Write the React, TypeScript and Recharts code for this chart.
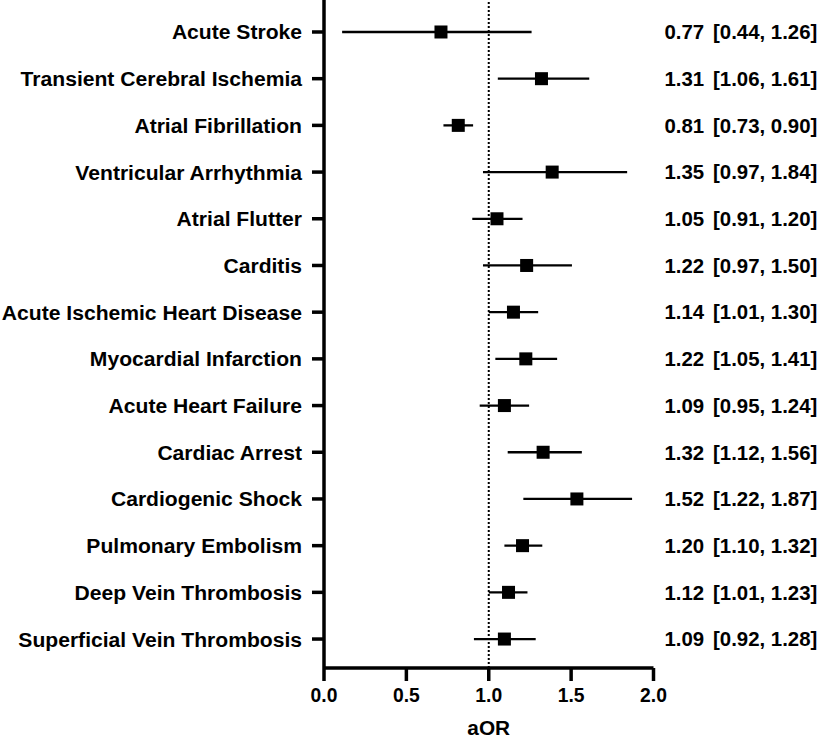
import React from 'react';
import { ScatterChart, Scatter, XAxis, YAxis, ErrorBar, ReferenceLine } from 'recharts';

// outcome rows, top to bottom
const outcomes = [
  'Acute Stroke',
  'Transient Cerebral Ischemia',
  'Atrial Fibrillation',
  'Ventricular Arrhythmia',
  'Atrial Flutter',
  'Carditis',
  'Acute Ischemic Heart Disease',
  'Myocardial Infarction',
  'Acute Heart Failure',
  'Cardiac Arrest',
  'Cardiogenic Shock',
  'Pulmonary Embolism',
  'Deep Vein Thrombosis',
  'Superficial Vein Thrombosis',
];

// plotted positions (as drawn)
const estimates = [0.71, 1.32, 0.815, 1.385, 1.05, 1.23, 1.15, 1.225, 1.095, 1.33, 1.535, 1.205, 1.12, 1.095];
const lowerCI = [0.11, 1.055, 0.725, 0.965, 0.9, 0.965, 1.0, 1.04, 0.945, 1.115, 1.21, 1.095, 1.0, 0.91];
const upperCI = [1.26, 1.61, 0.905, 1.84, 1.205, 1.505, 1.3, 1.415, 1.245, 1.565, 1.87, 1.325, 1.235, 1.285];

// printed values in the right-hand column
const reportedOR = ['0.77', '1.31', '0.81', '1.35', '1.05', '1.22', '1.14', '1.22', '1.09', '1.32', '1.52', '1.20', '1.12', '1.09'];
const reportedCI = [
  '[0.44, 1.26]',
  '[1.06, 1.61]',
  '[0.73, 0.90]',
  '[0.97, 1.84]',
  '[0.91, 1.20]',
  '[0.97, 1.50]',
  '[1.01, 1.30]',
  '[1.05, 1.41]',
  '[0.95, 1.24]',
  '[1.12, 1.56]',
  '[1.22, 1.87]',
  '[1.10, 1.32]',
  '[1.01, 1.23]',
  '[0.92, 1.28]',
];

const xTicks = [0, 0.5, 1, 1.5, 2];
const rowTicks = outcomes.map((_, i) => i);

const FONT = "'Liberation Sans', Arial, Helvetica, sans-serif";

const data = outcomes.map((name, i) => ({
  name,
  row: i,
  aor: estimates[i],
  err: [estimates[i] - lowerCI[i], upperCI[i] - estimates[i]],
}));

function StatTick({ x, y, payload }: any) {
  const i = payload.value;
  return (
    <g fontFamily={FONT} fontWeight="bold" fontSize={20.4} fill="#000">
      <text x={x + 11} y={y} dy="0.355em">{reportedOR[i]}</text>
      <text x={x + 59.5} y={y} dy="0.355em">{reportedCI[i]}</text>
    </g>
  );
}

const SquareDot = (props: any) => (
  <rect x={props.cx - 6.5} y={props.cy - 6.5} width={13} height={13} fill="#000" />
);

export default function App() {
  return (
    <div style={{ position: 'absolute', left: 0, top: 0, background: '#fff' }}>
      <ScatterChart width={819} height={743} margin={{ top: 0, right: 0, bottom: 0, left: 0 }}>
        <XAxis
          type="number"
          dataKey="aor"
          domain={[0, 2]}
          ticks={xTicks}
          tickFormatter={(v: number) => v.toFixed(1)}
          height={75}
          tickSize={13}
          tickMargin={7}
          axisLine={{ stroke: '#000', strokeWidth: 3.5 }}
          tickLine={{ stroke: '#000', strokeWidth: 3.5 }}
          tick={{ fill: '#000', fontFamily: FONT, fontWeight: 'bold', fontSize: 19.3 }}
          allowDataOverflow
          label={{
            value: 'aOR',
            position: 'insideBottom',
            offset: 8.5,
            fill: '#000',
            fontFamily: FONT,
            fontWeight: 'bold',
            fontSize: 20.8,
          }}
        />
        <YAxis
          yAxisId="left"
          type="number"
          dataKey="row"
          reversed
          domain={[-0.685, 13.62]}
          allowDataOverflow
          ticks={rowTicks}
          interval={0}
          tickFormatter={(v: number) => outcomes[v]}
          width={324}
          tickSize={12}
          tickMargin={10}
          axisLine={{ stroke: '#000', strokeWidth: 3.5 }}
          tickLine={{ stroke: '#000', strokeWidth: 3.5 }}
          tick={{ fill: '#000', fontFamily: FONT, fontWeight: 'bold', fontSize: 21.1 }}
        />
        <YAxis
          yAxisId="right"
          orientation="right"
          type="number"
          dataKey="row"
          reversed
          domain={[-0.685, 13.62]}
          allowDataOverflow
          ticks={rowTicks}
          interval={0}
          width={165.5}
          tickSize={0}
          tickMargin={0}
          axisLine={false}
          tickLine={false}
          tick={<StatTick />}
        />
        <ReferenceLine
          yAxisId="left"
          x={1}
          stroke="#000"
          strokeWidth={2}
          strokeDasharray="2 2"
        />
        <Scatter yAxisId="left" data={data} shape={<SquareDot />} isAnimationActive={false}>
          <ErrorBar
            dataKey="err"
            direction="x"
            width={0}
            stroke="#000"
            strokeWidth={2.3}
            isAnimationActive={false}
          />
        </Scatter>
        <Scatter yAxisId="right" data={data} shape={() => null} isAnimationActive={false} />
      </ScatterChart>
    </div>
  );
}
